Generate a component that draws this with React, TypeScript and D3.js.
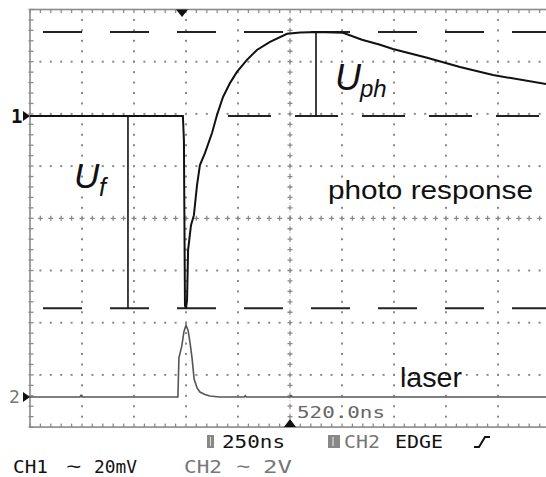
import React from 'react';
import * as d3 from 'd3';

const W = 546;
const H = 477;

// CH1: photo response, time in ns from the left edge, amplitude in mV above marker 1
const ch1Ns = [0, 735, 740, 745, 750, 755, 760, 774, 788, 803, 817, 841, 875, 899, 928, 962, 995, 1043, 1091, 1154, 1236, 1300, 1380, 1505, 1596, 1683, 1745, 1909, 2067, 2226, 2500];
const ch1MV = [0, 0, -9.2, -72.6, -73.7, -70.6, -51.4, -41.8, -38, -26.5, -18.8, -14.2, -6.5, 0.4, 7.3, 12.7, 16.9, 21.5, 25.3, 28.4, 31.5, 32.0, 32.2, 31.9, 29.2, 27.3, 25.7, 22.3, 18.8, 15.7, 12.0];

// CH2: laser pulse, time in ns, amplitude in V above marker 2
const ch2Ns = [0, 240, 245, 250, 711, 716, 730, 740, 750, 760, 769, 779, 789, 803, 817, 841, 865, 913, 1030, 1035, 1040, 1250, 1255, 1260, 2500];
const ch2V = [0, 0, 0.06, 0, 0, 1.5, 1.96, 2.5, 2.75, 2.55, 2.1, 1.5, 0.69, 0.35, 0.19, 0.1, 0.04, 0, 0, 0.05, 0, 0, 0.05, 0, 0];

// Cursor levels on CH1 (mV): peak, baseline, dip
const cursorMV = [32.2, 0, -73.7];
// Measurement bars: U_f and U_ph
const ufNs = 471;
const uphNs = 1375;
const ufSpan = [0, -73.7];
const uphSpan = [32.2, 0];

// Trigger markers (ns)
const trigTopNs = 731;
const trigBottomNs = 1250;

// Screen grid: 10 x 8 divisions, 5 minor steps each
const xDivs = 10;
const yDivs = 8;
const minor = 5;

// Status line texts
const timebase = '250ns';
const trigDelay = '520.0ns';
const ch1Scale = '20mV';
const ch2Scale = '2V';

const x = d3.scaleLinear().domain([0, 2500]).range([30, 550]);
const gy = d3.scaleLinear().domain([0, yDivs]).range([9.5, 427.1]);
const gx = d3.scaleLinear().domain([0, xDivs]).range([30, 550]);
const y1 = d3.scaleLinear().domain([0, 20]).range([116, 116 - 52.2]);
const y2 = d3.scaleLinear().domain([0, 2]).range([397, 397 - 52.2]);

const GRID = '#8a8a8a';

function Grid() {
  const items: React.ReactNode[] = [];
  const xMinor = d3.range(0, xDivs * minor + 1).map((i) => gx(i / minor));
  const yMinor = d3.range(0, yDivs * minor + 1).map((i) => gy(i / minor));
  // dotted division lines
  for (let i = 1; i < xDivs; i++) {
    if (i === xDivs / 2) continue;
    const xv = gx(i);
    yMinor.slice(1, -1).forEach((yv, k) =>
      items.push(<rect key={`vd${i}-${k}`} x={xv - 1} y={yv - 1} width={2} height={2} fill={GRID} />)
    );
  }
  for (let j = 1; j < yDivs; j++) {
    if (j === yDivs / 2) continue;
    const yv = gy(j);
    xMinor.slice(1, -1).forEach((xv, k) =>
      items.push(<rect key={`hd${j}-${k}`} x={xv - 1} y={yv - 1} width={2} height={2} fill={GRID} />)
    );
  }
  // centre cross lines
  const cx = gx(xDivs / 2);
  const cy = gy(yDivs / 2);
  yMinor.slice(1, -1).forEach((yv, k) =>
    items.push(
      <path key={`cv${k}`} d={`M${cx - 2.5},${yv}H${cx + 2.5}M${cx},${yv - 2.5}V${yv + 2.5}`} stroke={GRID} strokeWidth={1.3} />
    )
  );
  items.push(<line key="cvl" x1={cx} x2={cx} y1={gy(0)} y2={gy(yDivs)} stroke={GRID} strokeWidth={0.6} strokeDasharray="1 3.2" />);
  xMinor.slice(1, -1).forEach((xv, k) =>
    items.push(
      <path key={`ch${k}`} d={`M${xv - 2.5},${cy}H${xv + 2.5}M${xv},${cy - 2.5}V${cy + 2.5}`} stroke={GRID} strokeWidth={1.3} />
    )
  );
  // border with inward minor ticks
  items.push(
    <rect key="border" x={gx(0)} y={gy(0)} width={gx(xDivs) - gx(0)} height={gy(yDivs) - gy(0)} fill="none" stroke={GRID} strokeWidth={1.6} />
  );
  xMinor.forEach((xv, k) => {
    items.push(<line key={`tt${k}`} x1={xv} x2={xv} y1={gy(0)} y2={gy(0) + 3.5} stroke={GRID} strokeWidth={1.3} />);
    items.push(<line key={`tb${k}`} x1={xv} x2={xv} y1={gy(yDivs)} y2={gy(yDivs) - 3.5} stroke={GRID} strokeWidth={1.3} />);
  });
  yMinor.forEach((yv, k) => {
    items.push(<line key={`tl${k}`} x1={gx(0) - 1.5} x2={gx(0) + 3.5} y1={yv} y2={yv} stroke={GRID} strokeWidth={1.3} />);
  });
  return <g>{items}</g>;
}

export default function App() {
  const line1 = d3
    .line<number>()
    .x((_, i) => x(ch1Ns[i]))
    .y((v) => y1(v));
  const line2 = d3
    .line<number>()
    .x((_, i) => x(ch2Ns[i]))
    .y((v) => y2(v));

  const cursorY = cursorMV.map((v) => y1(v));
  const mono = "'DejaVu Sans Mono', monospace";
  const sans = "'Liberation Sans', Arial, sans-serif";

  return (
    <svg
      width={W}
      height={H}
      viewBox={`0 0 ${W} ${H}`}
      style={{ position: 'fixed', left: 0, top: 0, background: '#fff' }}
    >
      <rect width={W} height={H} fill="#fff" />
      <Grid />

      {/* cursor levels */}
      <line x1={43} x2={W} y1={cursorY[0]} y2={cursorY[0]} stroke="#222" strokeWidth={2} strokeDasharray="39 28" />
      <line x1={228} x2={W} y1={cursorY[1]} y2={cursorY[1]} stroke="#222" strokeWidth={2} strokeDasharray="43 24" />
      <line x1={43} x2={W} y1={cursorY[2]} y2={cursorY[2]} stroke="#222" strokeWidth={2} strokeDasharray="39 28" />

      {/* measurement bars */}
      <line x1={x(ufNs)} x2={x(ufNs)} y1={y1(ufSpan[0])} y2={y1(ufSpan[1])} stroke="#111" strokeWidth={1.6} />
      <line x1={x(uphNs)} x2={x(uphNs)} y1={y1(uphSpan[0])} y2={y1(uphSpan[1])} stroke="#111" strokeWidth={1.6} />

      {/* traces */}
      <path d={line2(ch2V) || ''} fill="none" stroke="#555" strokeWidth={1.6} />
      <path d={line1(ch1MV) || ''} fill="none" stroke="#111" strokeWidth={2} />

      {/* channel markers */}
      <text x={11} y={123} fontFamily={mono} fontWeight="bold" fontSize={19} fill="#111">1</text>
      <path d={`M23,${y1(0) - 5}L30,${y1(0)}L23,${y1(0) + 5}Z`} fill="#111" />
      <text x={9} y={403} fontFamily={mono} fontSize={18} fill="#777">2</text>
      <path d={`M23,${y2(0) - 5}L30,${y2(0)}L23,${y2(0) + 5}Z`} fill="#111" />

      {/* trigger markers */}
      <path d={`M${x(trigTopNs) - 6},9.5L${x(trigTopNs) + 6},9.5L${x(trigTopNs)},17Z`} fill="#111" />
      <path d={`M${x(trigBottomNs) - 6},427L${x(trigBottomNs) + 6},427L${x(trigBottomNs)},419Z`} fill="#111" />

      {/* annotations */}
      <text x={74} y={188} fontFamily={sans} fontStyle="italic" fontSize={35} fill="#111">U</text>
      <text x={99} y={196} fontFamily={sans} fontStyle="italic" fontSize={25} fill="#111">f</text>
      <text x={335} y={90} fontFamily={sans} fontStyle="italic" fontSize={36} fill="#111">U</text>
      <text x={360} y={97} fontFamily={sans} fontStyle="italic" fontSize={24} fill="#111">ph</text>
      <text x={328} y={199} fontFamily={sans} fontSize={25} fill="#111" textLength={205} lengthAdjust="spacingAndGlyphs">photo response</text>
      <text x={400} y={387} fontFamily={sans} fontSize={28} fill="#111" textLength={62} lengthAdjust="spacingAndGlyphs">laser</text>

      {/* status line */}
      <text x={297} y={418} fontFamily={mono} fontSize={16} fill="#666" textLength={88} lengthAdjust="spacingAndGlyphs">{trigDelay}</text>
      <rect x={207} y={435} width={7} height={13} fill="#888" />
      <line x1={210.5} x2={210.5} y1={437} y2={446} stroke="#ddd" strokeWidth={1} />
      <text x={222} y={448} fontFamily={mono} fontSize={17} fill="#111" textLength={63} lengthAdjust="spacingAndGlyphs">{timebase}</text>
      <rect x={328} y={435} width={12} height={13} fill="#888" />
      <line x1={333} x2={333} y1={437} y2={446} stroke="#ccc" strokeWidth={1.5} />
      <text x={344} y={448} fontFamily={mono} fontSize={17} fill="#777" textLength={36} lengthAdjust="spacingAndGlyphs">CH2</text>
      <text x={395} y={448} fontFamily={mono} fontSize={17} fill="#111" textLength={48} lengthAdjust="spacingAndGlyphs">EDGE</text>
      <path d="M474,447H479L485,437H490" fill="none" stroke="#111" strokeWidth={2} />

      <text x={13} y={473} fontFamily={mono} fontSize={17} fill="#111" textLength={35} lengthAdjust="spacingAndGlyphs">CH1</text>
      <text x={66} y={472} fontFamily={mono} fontSize={17} fill="#111" textLength={15} lengthAdjust="spacingAndGlyphs">∼</text>
      <text x={94} y={473} fontFamily={mono} fontSize={17} fill="#111" textLength={43} lengthAdjust="spacingAndGlyphs">{ch1Scale}</text>
      <text x={184} y={473} fontFamily={mono} fontSize={17} fill="#777" textLength={38} lengthAdjust="spacingAndGlyphs">CH2</text>
      <text x={236} y={472} fontFamily={mono} fontSize={17} fill="#777" textLength={14} lengthAdjust="spacingAndGlyphs">∼</text>
      <text x={263} y={473} fontFamily={mono} fontSize={17} fill="#777" textLength={29} lengthAdjust="spacingAndGlyphs">{ch2Scale}</text>
    </svg>
  );
}
